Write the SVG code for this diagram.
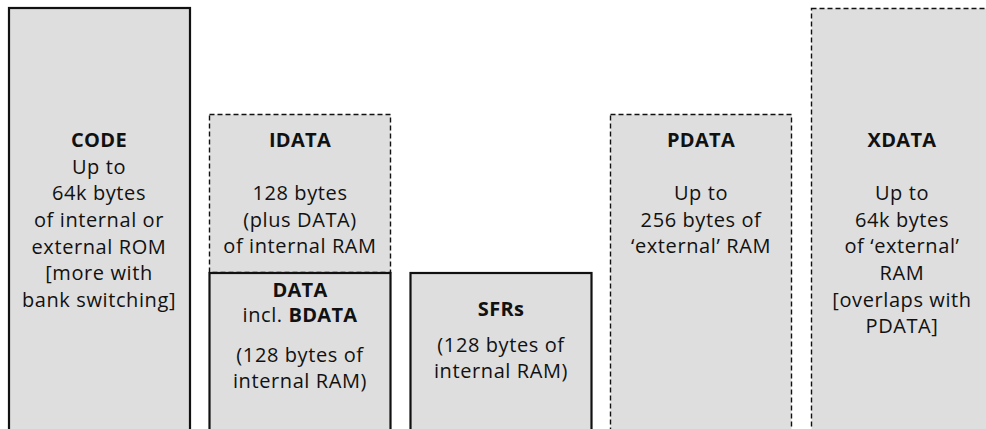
<svg xmlns="http://www.w3.org/2000/svg" width="986" height="429" viewBox="0 0 986 429">
<style>
.box{fill:#dedede}
.solid{stroke:#111;stroke-width:2.2}
.dash{stroke:#111;stroke-width:1.4;stroke-dasharray:5 3}
text{font-family:"Open Sans","Noto Sans",sans-serif;font-size:20px;letter-spacing:0.6px;fill:#111;text-anchor:middle}
.b{font-weight:bold;letter-spacing:0.3px}
</style>
<rect width="986" height="429" fill="#fff"/>
<g id="CODE">
<rect class="box solid" x="9" y="8" width="181" height="440"/>
<text x="99" y="147" class="b">CODE</text>
<text x="99" y="174">Up to</text>
<text x="99" y="200">64k bytes</text>
<text x="99" y="227">of internal or</text>
<text x="99" y="254">external ROM</text>
<text x="99" y="280">[more with</text>
<text x="99" y="307">bank switching]</text>
</g>
<g id="IDATA">
<rect class="box dash" x="209.5" y="114.5" width="181" height="158"/>
<text x="300" y="147" class="b">IDATA</text>
<text x="300" y="200">128 bytes</text>
<text x="300" y="227">(plus DATA)</text>
<text x="300" y="253">of internal RAM</text>
</g>
<g id="DATA">
<rect class="box solid" x="209.5" y="273" width="181" height="170"/>
<text x="300" y="297" class="b">DATA</text>
<text x="300" y="322">incl. <tspan class="b">BDATA</tspan></text>
<text x="300" y="362">(128 bytes of</text>
<text x="300" y="388">internal RAM)</text>
</g>
<g id="SFRs">
<rect class="box solid" x="410.5" y="273" width="181" height="170"/>
<text x="501" y="316" class="b">SFRs</text>
<text x="501" y="352">(128 bytes of</text>
<text x="501" y="378">internal RAM)</text>
</g>
<g id="PDATA">
<rect class="box dash" x="610.5" y="114.5" width="181" height="330"/>
<text x="701" y="147" class="b">PDATA</text>
<text x="701" y="200">Up to</text>
<text x="701" y="227">256 bytes of</text>
<text x="701" y="253">‘external’ RAM</text>
</g>
<g id="XDATA">
<rect class="box dash" x="811.5" y="8.5" width="181" height="440"/>
<text x="902" y="147" class="b">XDATA</text>
<text x="902" y="200">Up to</text>
<text x="902" y="227">64k bytes</text>
<text x="902" y="253">of ‘external’</text>
<text x="902" y="280">RAM</text>
<text x="902" y="307">[overlaps with</text>
<text x="902" y="333">PDATA]</text>
</g>
<g id="connectors"/>
</svg>
